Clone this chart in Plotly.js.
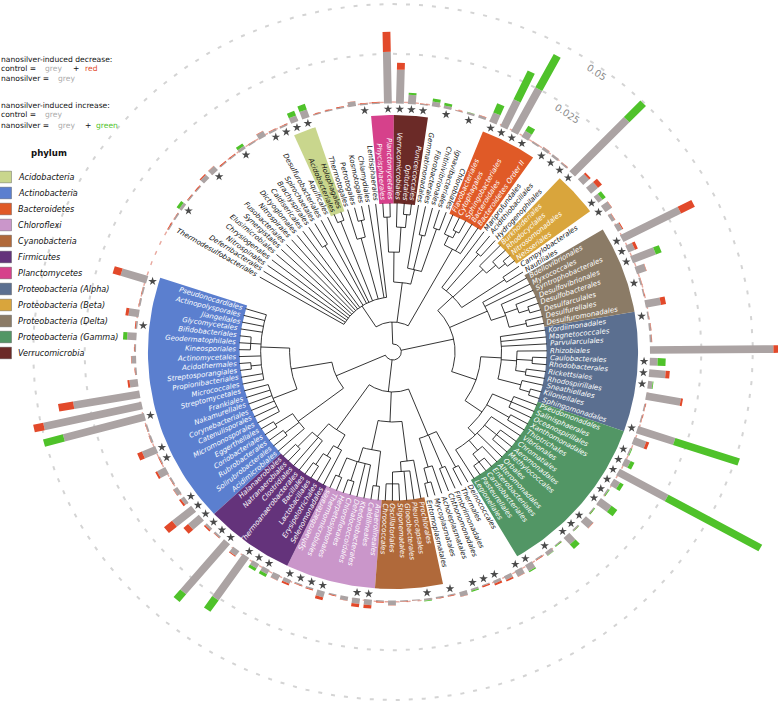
<!DOCTYPE html>
<html><head><meta charset="utf-8">
<script src="https://cdn.plot.ly/plotly-3.0.1.min.js"></script>
<style>body{margin:0;background:#fff}#chart{width:778px;height:708px}</style>
</head><body><div id="chart"></div>
<script>
// ---------------- data ----------------
const orders = ["Thermodesulfobacteriales","Deferribacterales","Nitrospinales","Chrysiogenales","Elusimicrobiales","Synergistales","Fusobacteriales","Nitrospirales","Dictyoglomales","Caldisericales","Brachyspirales","Spirochaetales","Desulfurobacteriales","Aquificales","Acidobacteriales","Holophagales","Thermotogales","Petrotogales","Kosmotogales","Chlamydiales","Lentisphaerales","Phycisphaerales","Planctomycetales","Verrucomicrobiales","Opitutales","Puniceicoccales","Gemmatimonadales","Fibrobacterales","Chitinivibrionales","Ignavibacteriales","Chlorobiales","Flavobacteriales","Cytophagales","Sphingobacteriales","Bacteroidales","Bacteroidetes Order II","Mariprofundales","Acidithiobacillales","Hydrogenophilales","Burkholderiales","Rhodocyclales","Nitrosomonadales","Neisseriales","Campylobacterales","Nautiliales","Bdellovibrionales","Myxococcales","Syntrophobacterales","Desulfovibrionales","Desulfobacterales","Desulfarculales","Desulfurellales","Desulfuromonadales","Kordiimonadales","Magnetococcales","Parvularculales","Rhizobiales","Caulobacterales","Rhodobacterales","Rickettsiales","Rhodospirillales","Sneathiellales","Kiloniellales","Sphingomonadales","Pseudomonadales","Salinisphaerales","Oceanospirillales","Xanthomonadales","Thiotrichales","Vibrionales","Chromatiales","Aeromonadales","Methylococcales","Orbales","Alteromonadales","Enterobacteriales","Cardiobacteriales","Pasteurellales","Legionellales","Deinococcales","Thermales","Fimbriimonadales","Chthonomonadales","Acholeplasmatales","Mycoplasmatales","Entomoplasmatales","Prochlorales","Pleurocapsales","Gloeobacterales","Stigonematales","Oscillatoriales","Chroococcales","Anaerolineales","Caldilineales","Ktedonobacterales","Dehalococcoidales","Chloroflexales","Herpetosiphonales","Thermomicrobiales","Sphaerobacterales","Selenomonadales","Erysipelotrichales","Lactobacillales","Bacillales","Thermoanaerobacterales","Clostridiales","Natranaerobiales","Halanaerobiales","Acidimicrobiales","Solirubrobacterales","Rubrobacterales","Coriobacteriales","Eggerthellales","Micromonosporales","Catenulisporales","Corynebacteriales","Nakamurellales","Frankiales","Streptomycetales","Micrococcales","Propionibacteriales","Streptosporangiales","Acidothermales","Actinomycetales","Kineosporiales","Geodermatophilales","Bifidobacteriales","Glycomycetales","Jiangellales","Actinopolysporales","Pseudonocardiales"];

// relative abundance (x 1e-3) in control and nanosilver soils
const control = [
  1.0,1.0,1.5,1.0,1.0,3.0,3.0,1.0,1.0,1.5,
  1.0,3.0,1.2,1.0,3.0,4.0,0.8,0.8,1.0,2.6,
  1.0,1.0,36,20.5,4.6,0.8,2.5,1.5,0.6,1.0,
  1.5,5,15,25,3.5,1.0,1.5,1.3,1.0,38,
  5,7,2.5,4,2.0,3,39,5,12,5,
  1.0,0.8,10,0.8,1.2,1.2,66,3.8,10,2.2,
  18,0.8,0.8,19,7.7,0.8,3,27,3.5,0.8,
  6.5,0.6,5,0.8,4.5,0.6,2.0,1.0,3.5,3.5,
  3.0,2.5,1.2,1.0,2.5,1.0,1.0,1.0,0.6,0.8,
  2.5,1.2,4.5,4.5,2.2,1.0,4.5,1.2,1.0,3.0,
  3.0,2.5,2.5,26,3.5,33,1.2,2.0,10,17,
  3.0,2.5,1.0,5.5,1.0,9.5,1.2,1.0,40.8,53.8,
  40,5,1.0,2.5,1.0,4.5,1.2,6.5,1.0,1.0,17];
const nanosilver = [
  0.6,0.8,3.0,0.7,0.6,2.4,2.8,0.6,0.6,3.0,
  0.8,2.8,1.0,0.8,5.5,7.0,0.5,0.5,0.7,2.4,
  0.7,0.6,26,17,5.6,0.6,4.0,2.8,0.4,1.2,
  1.3,10,31,44,6.5,0.9,1.4,1.2,0.9,49.5,
  4,4.5,4.5,3.8,1.8,2.5,31.5,3.5,15,4.8,
  0.8,0.6,7.5,0.7,1.0,1.0,60,7.7,8,2.6,
  17,0.6,0.6,52,6.2,1.2,5,79,5.5,1.2,
  10,1.0,4.8,1.0,7.5,1.0,2.2,0.7,4.2,3.3,
  2.2,1.5,0.6,1.6,2.4,0.7,0.8,1.4,0.5,0.6,
  2.4,0.7,2.8,2.8,2.0,0.7,3.0,0.8,0.7,2.0,
  2.9,4.0,4.0,33,3.0,38,1.0,1.2,7,12,
  2.0,2.3,0.8,4.5,0.6,7,1.0,0.8,50.8,48.8,
  32.6,4,0.8,2.3,0.8,6.5,0.8,5,0.8,0.8,13];

// orders with a significant change (asterisk)
const significant = [2,6,9,12,13,14,15,20,22,23,24,25,27,29,31,32,33,34,36,37,38,39,42,43,46,47,48,50,53,57,58,59,63,65,66,67,68,69,70,72,73,74,76,78,79,81,82,83,85,87,92,93,96,97,98,99,101,102,103,105,106,107,108,109,110,114,115,118,126,130];

// phyla (first and last order index of each coloured block)
const phylumNames = ["Acidobacteria","Actinobacteria","Bacteroidetes","Chloroflexi","Cyanobacteria","Firmicutes","Planctomycetes","Proteobacteria (Alpha)","Proteobacteria (Beta)","Proteobacteria (Delta)","Proteobacteria (Gamma)","Verrucomicrobia"];
const phylumFirst = [14,108,31,92,86,100,21,53,39,45,64,23];
const phylumLast  = [15,130,35,99,91,107,22,63,42,52,78,25];
const phylumColors = ["#c9d68d","#5b7fcf","#e05a27","#ca96ca","#b0693a","#64337b","#d6418b","#5b6f90","#d9a53c","#8b7b66","#529665","#6b2a27"];
const phylumTextColors = ["#111111","#ffffff","#ffffff","#ffffff","#ffffff","#ffffff","#ffffff","#ffffff","#ffffff","#ffffff","#ffffff","#ffffff"];

// tree clades: first leaf, last leaf, node radius
const cladeFirst  = [0,0,0,14,16,17,10,21,21,21,23,24,26,29,27,31,31,32,36,36,39,40,41,37,43,45,47,48,49,51,53,53,56,57,59,61,62,64,64,67,69,70,74,75,79,79,79,81,83,84,86,86,87,89,92,92,94,96,98,100,100,101,102,104,106,108,108,109,111,113,113,119,121,124];
const cladeLast   = [130,35,20,15,18,18,11,30,25,22,25,25,30,30,28,35,33,33,78,44,42,42,42,38,44,52,52,50,50,52,78,63,60,58,60,63,63,78,66,68,78,72,77,77,107,85,80,82,85,85,99,91,91,91,99,93,99,97,99,107,103,103,103,107,107,130,112,110,112,130,118,130,122,126];
const cladeRadius = [8,30,55,140,118,135,125,70,100,135,125,138,85,130,120,118,128,135,60,80,120,132,140,128,130,100,115,128,138,132,85,105,120,135,130,128,138,105,125,130,115,130,128,138,40,90,130,125,120,135,70,110,120,132,100,135,115,135,135,95,110,122,135,112,132,60,115,132,135,100,125,128,138,138];

// ---------------- geometry / style ----------------
const W = 778, H = 708;
const SX = 1.034, CXP = 393, CYP = 352;
const STEP = 2.667, T0 = 0.2 - 22.5 * STEP;
const R_TIP = 149, R_LABEL = 151.5, R_SEC_IN = 148.5, R_SEC_OUT = 237;
const R_STAR = 243, R_BASE = 248.5, PX_PER_VAL = 1990, BAR_HW = 3.8;
const GREY = "#aba3a3", RED = "#e2492a", GREEN = "#4fc22a";

function ang(i) { return T0 + i * STEP; }
function P(r, deg) { const a = deg * Math.PI / 180; return [r * Math.sin(a), r * Math.cos(a)]; }

const traces = [];

// dashed scale circles
[0.025, 0.05].forEach(v => {
  const xs = [], ys = [];
  for (let d = 0; d <= 360; d += 1) { const p = P(R_BASE + v * PX_PER_VAL, d); xs.push(p[0]); ys.push(p[1]); }
  traces.push({type: "scatter", mode: "lines", x: xs, y: ys, hoverinfo: "skip",
    line: {color: "#d4d4d4", width: 2, dash: "4px,9px"}});
});
// dashed baseline ring
(function () {
  const xs = [], ys = [];
  for (let d = 0; d <= 360; d += 0.5) { const p = P(R_BASE + 1.5, d); xs.push(p[0]); ys.push(p[1]); }
  traces.push({type: "scatter", mode: "lines", x: xs, y: ys, hoverinfo: "skip",
    line: {color: "#e8a89e", width: 1.4, dash: "4px,7px"}});
})();

// phylum sectors
phylumNames.forEach((nm, k) => {
  const a0 = ang(phylumFirst[k]) - STEP / 2, a1 = ang(phylumLast[k]) + STEP / 2;
  const xs = [], ys = [];
  const n = 40;
  for (let j = 0; j <= n; j++) { const p = P(R_SEC_OUT, a0 + (a1 - a0) * j / n); xs.push(p[0]); ys.push(p[1]); }
  for (let j = n; j >= 0; j--) { const p = P(R_SEC_IN, a0 + (a1 - a0) * j / n); xs.push(p[0]); ys.push(p[1]); }
  traces.push({type: "scatter", mode: "lines", x: xs, y: ys, fill: "toself", fillcolor: phylumColors[k],
    line: {width: 0, color: phylumColors[k]}, hoverinfo: "skip", name: nm});
});

// tree
const clades = cladeFirst.map((f, k) => ({f: f, l: cladeLast[k], r: cladeRadius[k]}));
function findClade(f, l, self) {
  let best = null;
  clades.forEach(c => { if (c !== self && c.f === f && c.l <= l && (!best || c.l > best.l)) best = c; });
  return best;
}
const tx = [], ty = [];
function seg(pts) { pts.forEach(p => { tx.push(p[0]); ty.push(p[1]); }); tx.push(null); ty.push(null); }
function build(c) {
  const kids = [];
  let i = c.f;
  while (i <= c.l) {
    const sub = findClade(i, c.l, c);
    if (sub && !(sub.f === c.f && sub.l === c.l)) { kids.push(build(sub)); i = sub.l + 1; }
    else { kids.push({a: ang(i), r: R_TIP}); i++; }
  }
  const a0 = kids[0].a, a1 = kids[kids.length - 1].a;
  kids.forEach(k => seg([P(c.r, k.a), P(k.r, k.a)]));
  const arc = [];
  for (let j = 0; j <= 60; j++) arc.push(P(c.r, a0 + (a1 - a0) * j / 60));
  seg(arc);
  return {a: (a0 + a1) / 2, r: c.r};
}
build(clades[0]);
traces.push({type: "scatter", mode: "lines", x: tx, y: ty, hoverinfo: "skip",
  line: {color: "#111", width: 0.85}});

// bars
const bx = {g: [], r: [], n: []}, by = {g: [], r: [], n: []};
function rect(key, r0, r1, a) {
  const t = a * Math.PI / 180;
  const tx0 = Math.cos(t) * BAR_HW, ty0 = -Math.sin(t) * BAR_HW;
  const p0 = P(r0, a), p1 = P(r1, a);
  const pts = [[p0[0] + tx0, p0[1] + ty0], [p1[0] + tx0, p1[1] + ty0], [p1[0] - tx0, p1[1] - ty0], [p0[0] - tx0, p0[1] - ty0], [p0[0] + tx0, p0[1] + ty0]];
  pts.forEach(p => { bx[key].push(p[0]); by[key].push(p[1]); });
  bx[key].push(null); by[key].push(null);
}
orders.forEach((o, i) => {
  const c = control[i] * 1e-3, n = nanosilver[i] * 1e-3;
  const lo = Math.min(c, n), hi = Math.max(c, n);
  const a = ang(i);
  rect("g", R_BASE, R_BASE + lo * PX_PER_VAL, a);
  rect(c > n ? "r" : "n", R_BASE + lo * PX_PER_VAL, R_BASE + hi * PX_PER_VAL, a);
});
[["g", GREY], ["r", RED], ["n", GREEN]].forEach(([k, col]) => {
  traces.push({type: "scatter", mode: "lines", x: bx[k], y: by[k], fill: "toself", fillcolor: col,
    line: {width: 0, color: col}, hoverinfo: "skip"});
});

// asterisks
traces.push({type: "scatter", mode: "markers", x: significant.map(i => P(R_STAR, ang(i))[0]),
  y: significant.map(i => P(R_STAR, ang(i))[1]), hoverinfo: "skip",
  marker: {symbol: "star", size: 6.5, color: "#4a4a4a", line: {width: 0}}});

// ---------------- annotations ----------------
const annotations = [];
const ctx = document.createElement("canvas").getContext("2d");
const LABEL_FONT = 7;
ctx.font = "italic " + LABEL_FONT + "px 'DejaVu Sans'";
function norm(a) { while (a > 180) a -= 360; while (a <= -180) a += 360; return a; }
const phyOf = orders.map((o, i) => { let k = -1; phylumFirst.forEach((f, j) => { if (i >= f && i <= phylumLast[j]) k = j; }); return k; });
orders.forEach((name, i) => {
  const a = ang(i) * Math.PI / 180;
  let dx = SX * Math.sin(a), dy = -Math.cos(a);
  const len = Math.hypot(dx, dy); dx /= len; dy /= len;
  const phi = Math.atan2(dy, dx) * 180 / Math.PI;
  const outward = (i >= 31 && i <= 98);
  const w = ctx.measureText(name).width;
  const s = P(R_LABEL, ang(i));
  const cx = s[0] + (w / 2 + 0.5) * dx / SX, cy = s[1] - (w / 2 + 0.5) * dy;
  annotations.push({x: cx, y: cy, xref: "x", yref: "y", text: "<i>" + name + "</i>", showarrow: false,
    xanchor: "center", yanchor: "middle", textangle: norm(outward ? phi : phi + 180),
    font: {family: "DejaVu Sans", size: LABEL_FONT, color: phyOf[i] >= 0 ? phylumTextColors[phyOf[i]] : "#111111"}, borderpad: 0});
});

// scale labels
[[0.025, "0.025"], [0.05, "0.05"]].forEach(([v, t]) => {
  const p = P(R_BASE + v * PX_PER_VAL - 6, 35.2);
  annotations.push({x: p[0], y: p[1], xref: "x", yref: "y", text: t, showarrow: false, textangle: 34,
    xanchor: "center", yanchor: "middle", font: {family: "DejaVu Sans", size: 9.5, color: "#8a8a8a"}});
});

// top-left key
function txt(x, y, t, col, size, extra) {
  annotations.push(Object.assign({x: x / W, y: 1 - y / H, xref: "paper", yref: "paper", text: t, showarrow: false,
    xanchor: "left", yanchor: "middle", font: {family: "DejaVu Sans", size: size, color: col}}, extra || {}));
}
const KF = 7.6;
txt(-1, 59, "nanosilver-induced decrease:", "#111", KF);
txt(-1, 69, "control =", "#111", KF); txt(43, 69, "grey", "#aaaaaa", KF); txt(71, 69, "+", "#111", KF); txt(83, 69, "red", RED, KF);
txt(-1, 78, "nanosilver =", "#111", KF); txt(56, 78, "grey", "#aaaaaa", KF);
txt(-1, 105, "nanosilver-induced increase:", "#111", KF);
txt(-1, 115, "control =", "#111", KF); txt(43, 115, "grey", "#aaaaaa", KF);
txt(-1, 125, "nanosilver =", "#111", KF); txt(56, 125, "grey", "#aaaaaa", KF); txt(83, 125, "+", "#111", KF); txt(94, 125, "green", GREEN, KF);

// phylum key
txt(29, 153, "<b>phylum</b>", "#111", 8.6);
const shapes = [];
phylumNames.forEach((nm, k) => {
  const yc = 177 + 16 * k;
  shapes.push({type: "rect", xref: "paper", yref: "paper", x0: -1 / W, x1: 11.5 / W, y0: 1 - (yc - 5.8) / H, y1: 1 - (yc + 5.8) / H,
    fillcolor: phylumColors[k], line: {color: "rgba(70,70,70,0.55)", width: 0.7}});
  txt(16, yc, "<i>" + nm + "</i>", "#111", 8.1);
});

const layout = {
  width: W, height: H, margin: {l: 0, r: 0, t: 0, b: 0}, showlegend: false,
  paper_bgcolor: "#fff", plot_bgcolor: "#fff",
  xaxis: {range: [-CXP / SX, (W - CXP) / SX], visible: false, fixedrange: true},
  yaxis: {range: [-(H - CYP), CYP], visible: false, fixedrange: true},
  annotations: annotations, shapes: shapes
};
Plotly.newPlot("chart", traces, layout, {displayModeBar: false, staticPlot: true});
</script></body></html>
